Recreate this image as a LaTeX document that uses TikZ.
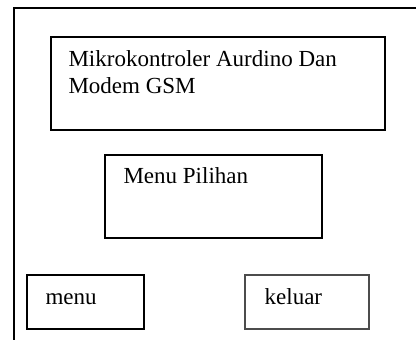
\documentclass[tikz,border=0pt]{standalone}
\usepackage{fontspec}
\setmainfont{Liberation Serif}
\usetikzlibrary{positioning}

\begin{document}
\begin{tikzpicture}[x=1pt,y=-1pt]
% define box types
\tikzstyle{panel}=[draw,rectangle, line width=1.3pt, inner sep=0pt]
\tikzstyle{panellight}=[draw=black!70,rectangle, line width=1.1pt, inner sep=0pt]
\tikzstyle{caption}=[inner sep=0pt, align=left,
    font=\fontsize{23}{27}\selectfont]
\useasboundingbox (0,0) rectangle (416,340);
% outer frame
\draw[line width=2.4pt] (14,340) -- (14,8) -- (416,8);
% boxes
\node[panel, minimum width=334pt, minimum height=93pt] (mcu) at (218,83.5) {};
\node[panel, minimum width=217pt, minimum height=83pt] (pilihan) at (213.5,196.5) {};
\node[panel, minimum width=117pt, minimum height=54pt] (menu) at (85.5,302) {};
\node[panellight, minimum width=124pt, minimum height=54pt] (keluar) at (307,302) {};
% texts
\node[caption, anchor=base west] (mcutext) at ([shift={(18,57.5)}]mcu.north west)
    {Mikrokontroler Aurdino Dan\\Modem GSM};
\node[caption, anchor=base west] (pilihantext) at ([shift={(19,29.5)}]pilihan.north west)
    {Menu Pilihan};
\node[caption, anchor=base west] (menutext) at ([shift={(19,30)}]menu.north west)
    {menu};
\node[caption, anchor=base west] (keluartext) at ([shift={(20,30)}]keluar.north west)
    {keluar};
\end{tikzpicture}
\end{document}
